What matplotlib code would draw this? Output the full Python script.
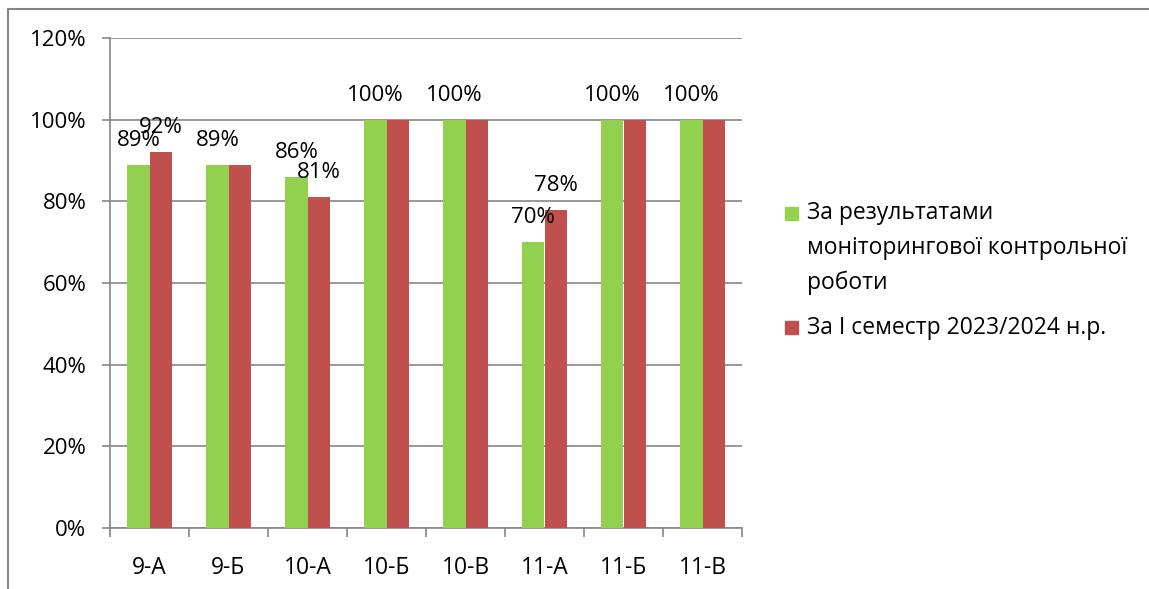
#!/usr/bin/env python

import numpy as np
import matplotlib.pyplot as plt
from matplotlib.patches import Rectangle
from matplotlib.lines import Line2D

# class names and the two series (percent)
classes = ["9-А", "9-Б", "10-А", "10-Б", "10-В", "11-А", "11-Б", "11-В"]
monitoring = [89, 89, 86, 100, 100, 70, 100, 100]
semester = [92, 89, 81, 100, 100, 78, 100, 100]
series_names = ["За результатами\nмоніторингової контрольної\nроботи",
                "За І семестр 2023/2024 н.р."]
yticks = [0, 20, 40, 60, 80, 100, 120]

green = "#92D050"
red = "#C0504D"
grid_col = "#868686"

plt.rcParams['font.family'] = ['Open Sans', 'DejaVu Sans']
fs = 16

W, H = 1149, 589
fig = plt.figure(figsize=(W / 100, H / 100), dpi=100)
ax = fig.add_axes([110 / W, 1 - 528 / H, (742 - 110) / W, (528 - 38) / H])

x = np.arange(len(classes))
w = 0.2825
b1 = ax.bar(x - w / 2, monitoring, w, color=green, zorder=3)
b2 = ax.bar(x + w / 2, semester, w, color=red, zorder=3)

# data labels: green always, red only where it differs
for xi, v in zip(x - w / 2, monitoring):
    ax.annotate(f"{v}%", (xi, v), xytext=(0, 10), textcoords="offset points",
                ha="center", va="bottom", fontsize=fs, zorder=5)
for xi, v, g in zip(x + w / 2, semester, monitoring):
    if v != g:
        ax.annotate(f"{v}%", (xi, v), xytext=(0, 10), textcoords="offset points",
                    ha="center", va="bottom", fontsize=fs, zorder=5)

ax.set_xlim(-0.5, len(classes) - 0.5)
ax.set_ylim(0, 120)
ax.set_yticks(yticks)
ax.set_yticklabels([f"{t}%" for t in yticks], fontsize=fs)
ax.yaxis.grid(True, color=grid_col, linewidth=1.2, zorder=0)
ax.set_axisbelow(True)

ax.set_xticks(x)
ax.set_xticklabels(classes, fontsize=fs + 0.5)
ax.set_xticks(np.arange(len(classes) + 1) - 0.5, minor=True)
ax.tick_params(axis="x", which="major", length=0, pad=20)
ax.tick_params(axis="x", which="minor", length=6.5, width=1.2, color=grid_col)
ax.tick_params(axis="y", length=6, width=1.2, color=grid_col, pad=11)

for s in ["top", "right"]:
    ax.spines[s].set_visible(False)
for s in ["left", "bottom"]:
    ax.spines[s].set_color(grid_col)
    ax.spines[s].set_linewidth(1.2)

# legend drawn by hand (Excel style, marker at first line)
lx, ly = 785, 207
fig.patches.append(Rectangle((lx / W, 1 - (ly + 13) / H), 13 / W, 13 / H,
                             transform=fig.transFigure, color=green))
fig.text(807 / W, 1 - 201 / H, series_names[0], fontsize=fs + 0.5, va="top",
         ha="left", linespacing=1.6)
fig.patches.append(Rectangle((lx / W, 1 - 334 / H), 13 / W, 13 / H,
                             transform=fig.transFigure, color=red))
fig.text(807 / W, 1 - 328 / H, series_names[1], fontsize=fs + 0.5, va="center",
         ha="left")

# chart border (left and top visible)
fig.lines.append(Line2D([8 / W, 8 / W, 1.01], [-0.01, 1 - 9 / H, 1 - 9 / H],
                        transform=fig.transFigure, color=grid_col, linewidth=1.5))

fig.savefig("out.png", dpi=100)
